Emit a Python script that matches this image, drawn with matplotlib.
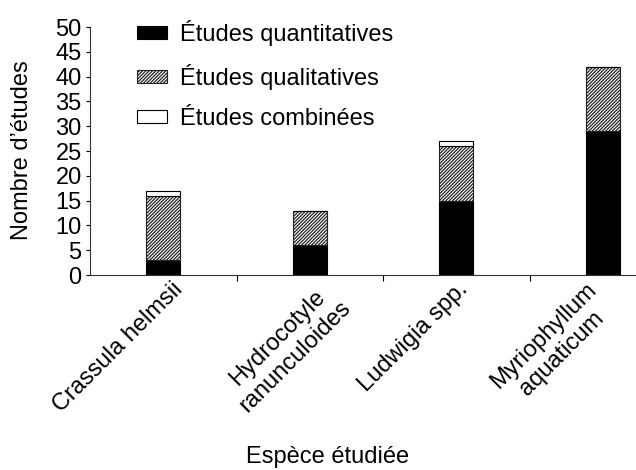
import matplotlib
matplotlib.use("Agg")
import matplotlib.pyplot as plt
import numpy as np

plt.rcParams['font.family'] = ['Liberation Sans', 'DejaVu Sans']
plt.rcParams['hatch.linewidth'] = 0.9

species = ["Crassula helmsii", "Hydrocotyle\nranunculoides", "Ludwigia spp.", "Myriophyllum\naquaticum"]
quantitatives = [3, 6, 15, 29]
qualitatives = [13, 7, 11, 13]
combinees = [1, 0, 1, 0]
series_labels = ["Études quantitatives", "Études qualitatives", "Études combinées"]
yticks = list(range(0, 55, 5))

FS = 17
fig = plt.figure(figsize=(6.36, 4.70), dpi=100)
ax = fig.add_axes([90/636, 1-275/470, (636-90)/636 - 0.002, (275-27)/470])

x = np.arange(len(species))
w = 0.23
q = np.array(quantitatives)
ql = np.array(qualitatives)
c = np.array(combinees)
ax.bar(x, q, w, color='black', edgecolor='black', linewidth=0.8, label=series_labels[0])
ax.bar(x, ql, w, bottom=q, color='white', edgecolor='#222222', hatch='/' * 10, linewidth=0.8, label=series_labels[1])
ax.bar(x, c, w, bottom=q+ql, color='white', edgecolor='black', linewidth=0.8, label=series_labels[2])

ax.set_xlim(-0.5, (636-163)/147)
ax.set_ylim(0, 50)
ax.set_yticks(yticks)
ax.set_yticklabels([str(v) for v in yticks], fontsize=FS)
ax.tick_params(axis='y', direction='out', length=3, width=0.8, pad=3)
ax.set_xticks([0.5, 1.5, 2.5])
ax.set_xticklabels([])
ax.tick_params(axis='x', direction='out', length=4, width=0.8)
for s in ['top', 'right']:
    ax.spines[s].set_visible(False)
for s in ['left', 'bottom']:
    ax.spines[s].set_linewidth(0.8)
    ax.spines[s].set_color('#333333')

label_dx = [0.06, 0.08, 0.0, -0.12]
for xi, name, dx in zip(x, species, label_dx):
    ax.text(xi + dx, -0.7, name, rotation=45, rotation_mode='anchor', ha='right', va='top',
            multialignment='center', fontsize=FS)

fig.text(22/636, 1-150/470, "Nombre d\u2019études", rotation=90, ha='center', va='center', fontsize=FS)
fig.text(328/636, 1-457/470, "Espèce étudiée", ha='center', va='center', fontsize=FS)

ax.legend(loc='upper left', bbox_to_anchor=(137/636, 1-20/470), bbox_transform=fig.transFigure,
          frameon=False, fontsize=FS, borderpad=0, borderaxespad=0,
          handlelength=1.27, handleheight=0.5, labelspacing=0.76, handletextpad=0.55)

fig.savefig("out.png", dpi=100)
